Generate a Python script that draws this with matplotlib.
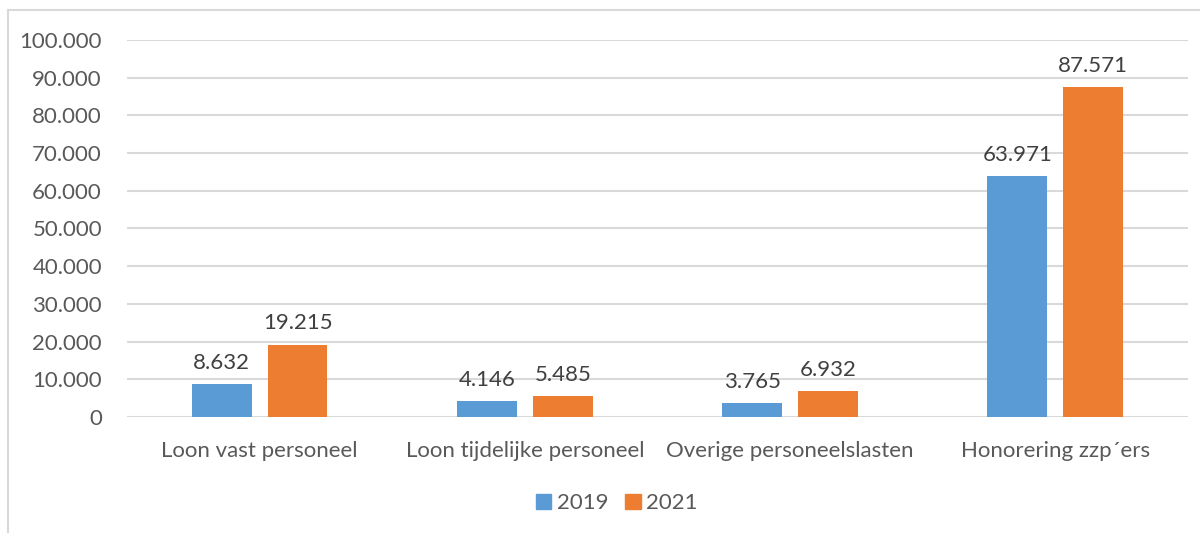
import numpy as np
import matplotlib
matplotlib.use('Agg')
import matplotlib.pyplot as plt
from matplotlib.lines import Line2D
from matplotlib.patches import Patch

categories = ['Loon vast personeel', 'Loon tijdelijke personeel',
              'Overige personeelslasten', 'Honorering zzp\u00b4ers']
years = ['2019', '2021']
values_2019 = [8632, 4146, 3765, 63971]
values_2021 = [19215, 5485, 6932, 87571]
y_ticks = list(range(0, 100001, 10000))

BLUE = '#5b9bd5'
ORANGE = '#ed7d31'
GRID = '#d9d9d9'
TICK_TXT = '#595959'
LABEL_TXT = '#404040'


def fmt(v):
    # dutch thousands separator
    return '{:,}'.format(v).replace(',', '.')


plt.rcParams['font.family'] = ['Lato', 'DejaVu Sans']

fig = plt.figure(figsize=(12, 5.33), dpi=100)
ax = fig.add_axes([0.1058, 0.2176, 0.8842, 0.7074])

x = np.arange(len(categories))
w = 0.226
off = 0.143
b1 = ax.bar(x - off, values_2019, w, color=BLUE, label=years[0], zorder=2)
b2 = ax.bar(x + off, values_2021, w, color=ORANGE, label=years[1], zorder=2)

for bars, vals in ((b1, values_2019), (b2, values_2021)):
    for rect, v in zip(bars, vals):
        ax.text(rect.get_x() + rect.get_width() / 2, v + 3000, fmt(v),
                ha='center', va='bottom', fontsize=16, color=LABEL_TXT)

ax.set_xlim(-0.5, len(categories) - 0.5)
ax.set_ylim(0, 100000)
ax.set_yticks(y_ticks)
ax.set_yticklabels([fmt(t) for t in y_ticks])
ax.set_xticks(x)
ax.set_xticklabels(categories)
ax.tick_params(axis='y', length=0, pad=18, labelsize=16, labelcolor=TICK_TXT)
ax.tick_params(axis='x', length=0, pad=17, labelsize=16, labelcolor=TICK_TXT)
for t in y_ticks:
    ax.axhline(t, color=GRID, lw=1.5, zorder=1)
for s in ax.spines.values():
    s.set_visible(False)

handles = [Patch(color=BLUE), Patch(color=ORANGE)]
fig.legend(handles, years, loc='center', bbox_to_anchor=(0.514, 0.056), ncol=2,
           frameon=False, fontsize=16, labelcolor=TICK_TXT,
           handlelength=0.7, handleheight=0.7, handletextpad=0.25, columnspacing=0.75)

# chart frame (only left and top edges fall inside the canvas)
fig.add_artist(Line2D([8 / 1200, 8 / 1200], [0, 1 - 10 / 533], color=GRID, lw=1.5))
fig.add_artist(Line2D([8 / 1200, 1], [1 - 10 / 533, 1 - 10 / 533], color=GRID, lw=1.5))

fig.savefig('out.png', dpi=100)
